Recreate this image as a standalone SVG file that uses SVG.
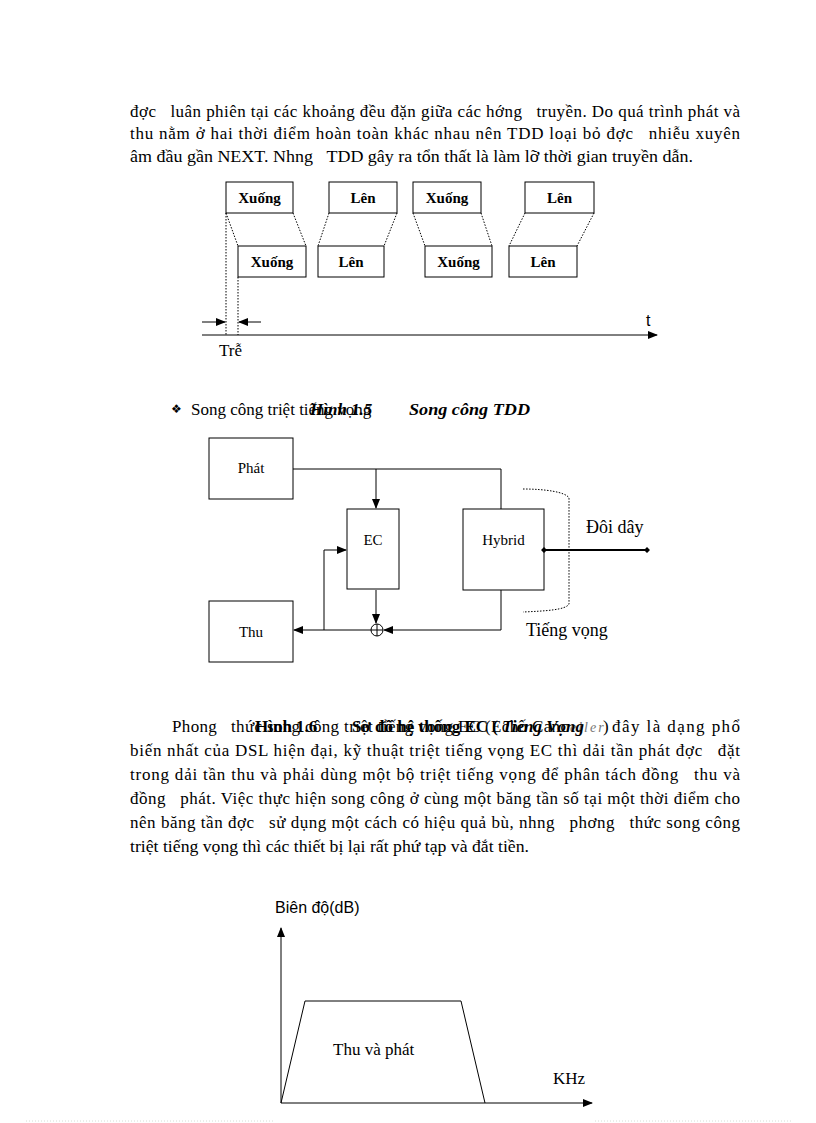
<svg xmlns="http://www.w3.org/2000/svg" width="816" height="1123" viewBox="0 0 816 1123">
<defs>
<marker id="ah" markerWidth="10" markerHeight="8" refX="9" refY="4" orient="auto" markerUnits="userSpaceOnUse"><path d="M0,0 L10,4 L0,8 Z" fill="#000"/></marker>
<style>
.body{font-family:"Liberation Serif","Times New Roman",serif;font-size:17px;fill:#000}
.cap{font-family:"Liberation Serif","Times New Roman",serif;font-size:17px;font-weight:bold;font-style:italic;fill:#000}
.capb{font-family:"Liberation Serif","Times New Roman",serif;font-size:17px;font-weight:bold;fill:#000}
.tb{font-family:"Liberation Serif","Times New Roman",serif;font-size:15px;font-weight:bold;fill:#000;text-anchor:middle}
.bl{font-family:"Liberation Serif","Times New Roman",serif;font-size:15px;fill:#000;text-anchor:middle}
.lbl{font-family:"Liberation Serif","Times New Roman",serif;font-size:18px;fill:#000}
.sans{font-family:"Liberation Sans",Arial,sans-serif;font-size:16px;fill:#000}
.box{fill:#fff;stroke:#000;stroke-width:1}
.ln{fill:none;stroke:#000;stroke-width:1}
.dot{fill:none;stroke:#000;stroke-width:1;stroke-dasharray:1.5 1.5}
.faint{fill:none;stroke:#d6ddd6;stroke-width:1;stroke-dasharray:1 2}
</style>
</defs>
<rect width="816" height="1123" fill="#fff"/>

<!-- Paragraph 1 -->
<g id="para1">
<text class="body" x="130" y="117" textLength="610" lengthAdjust="spacing">đợc &#160;&#160;luân phiên tại các khoảng đều đặn giữa các hớng &#160;&#160;truyền. Do quá trình phát và</text>
<text class="body" x="130" y="139" textLength="610" lengthAdjust="spacing">thu nằm ở hai thời điểm hoàn toàn khác nhau nên TDD loại bỏ đợc &#160;&#160;nhiễu xuyên</text>
<text class="body" x="130" y="162" textLength="563" lengthAdjust="spacingAndGlyphs">âm đầu gần NEXT. Nhng &#160;&#160;TDD gây ra tổn thất là làm lỡ thời gian truyền dẫn.</text>
</g>

<!-- Timing diagram -->
<g id="tdd">
<g id="t-top-xuong"><rect class="box" x="226" y="182" width="67" height="31"/><text class="tb" x="259.5" y="203">Xuống</text></g>
<g id="t-top-len"><rect class="box" x="329" y="182" width="68" height="31"/><text class="tb" x="363" y="203">Lên</text></g>
<g id="t-top-xuong2"><rect class="box" x="413" y="182" width="68" height="31"/><text class="tb" x="447" y="203">Xuống</text></g>
<g id="t-top-len2"><rect class="box" x="525" y="182" width="69" height="31"/><text class="tb" x="559.5" y="203">Lên</text></g>
<g id="t-bot-xuong"><rect class="box" x="238" y="246" width="68" height="31"/><text class="tb" x="272" y="267">Xuống</text></g>
<g id="t-bot-len"><rect class="box" x="318" y="246" width="66" height="31"/><text class="tb" x="351" y="267">Lên</text></g>
<g id="t-bot-xuong2"><rect class="box" x="425" y="246" width="67" height="31"/><text class="tb" x="458.5" y="267">Xuống</text></g>
<g id="t-bot-len2"><rect class="box" x="509" y="246" width="68" height="31"/><text class="tb" x="543" y="267">Lên</text></g>
<g id="t-connectors">
<path class="dot" d="M226,213 L238,246 M293,213 L306,246 M329,213 L318,246 M397,213 L384,246 M413,213 L425,246 M481,213 L492,246 M525,213 L509,246 M594,213 L577,246"/>
<path class="dot" d="M226,213 L226,335 M238,277 L238,335"/>
<path class="ln" d="M202,335 L657,335" marker-end="url(#ah)"/>
<path class="ln" d="M202,322 L225,322" marker-end="url(#ah)"/>
<path class="ln" d="M261,322 L239,322" marker-end="url(#ah)"/>
</g>
<text class="sans" x="646" y="326" font-size="17">t</text>
<text class="body" x="219" y="356">Trễ</text>
</g>

<!-- Caption 1.5 overlapping heading -->
<g id="heading">
<text x="171" y="413" font-family="DejaVu Sans,sans-serif" font-size="12" fill="#000">❖</text>
<text class="body" x="191" y="415" font-size="16">Song công triệt tiếng vọng</text>
<text class="cap" x="310" y="415">Hình 1.5</text>
<text class="cap" x="409" y="415" textLength="121" lengthAdjust="spacingAndGlyphs">Song công TDD</text>
</g>

<!-- Block diagram -->
<g id="ec-diagram">
<g id="n-phat"><rect class="box" x="209" y="438" width="84" height="61"/><text class="bl" x="251" y="473">Phát</text></g>
<g id="n-ec"><rect class="box" x="347" y="509" width="52" height="80"/><text class="bl" x="373" y="545">EC</text></g>
<g id="n-hybrid"><rect class="box" x="463" y="509" width="81" height="81"/><text class="bl" x="503.5" y="545">Hybrid</text></g>
<g id="n-thu"><rect class="box" x="209" y="601" width="84" height="61"/><text class="bl" x="251" y="637">Thu</text></g>
<g id="n-sum"><circle cx="377" cy="630" r="6" fill="#fff" stroke="#000"/><path class="ln" d="M371,630 L383,630 M377,624 L377,636"/></g>
<g id="ec-connectors">
<path class="ln" d="M293,469 L501,469 L501,509"/>
<path class="ln" d="M376,469 L376,508" marker-end="url(#ah)"/>
<path class="ln" d="M376,590 L376,623" marker-end="url(#ah)"/>
<path class="ln" d="M501,590 L501,630 L384,630" marker-end="url(#ah)"/>
<path class="ln" d="M371,630 L294,630" marker-end="url(#ah)"/>
<path class="ln" d="M324,630 L324,550 L346,550" marker-end="url(#ah)"/>
<path d="M544,550 L647,550" stroke="#000" stroke-width="2"/>
<path d="M544,547 L547,550 L544,553 L541,550 Z M647,547 L650,550 L647,553 L644,550 Z" fill="#000"/>
<path class="dot" d="M523,489 C545,489 566,492 569,498 L569,604 C566,610 545,611 523,612"/>
</g>
<text class="lbl" x="586" y="533">Đôi dây</text>
<text class="lbl" x="526" y="636">Tiếng vọng</text>
</g>

<!-- Paragraph 2 with overlapping caption 1.6 -->
<g id="para2">
<text class="body" x="172" y="732" textLength="396" lengthAdjust="spacing">Phong &#160;&#160;thức song công triệt tiếng vọng EC (Echo Canc</text>
<text x="570" y="732" font-family="Liberation Serif,serif" font-size="14" font-style="italic" fill="#777" letter-spacing="2">eller</text>
<text class="body" x="603" y="732">)</text>
<text class="body" x="612" y="732" textLength="128" lengthAdjust="spacing">đây là dạng phổ</text>
<text class="capb" x="255" y="732">Hình 1.6</text>
<text class="capb" x="352" y="732">Sơ đồ hệ thống EC (</text>
<text class="cap" x="502" y="732">Tiếng Vọng</text>
<text class="body" x="130" y="756" textLength="610" lengthAdjust="spacing">biến nhất của DSL hiện đại, kỹ thuật triệt tiếng vọng EC thì dải tần phát đợc &#160;&#160;đặt</text>
<text class="body" x="130" y="780" textLength="610" lengthAdjust="spacing">trong dải tần thu và phải dùng một bộ triệt tiếng vọng để phân tách đồng &#160;&#160;thu và</text>
<text class="body" x="130" y="804" textLength="610" lengthAdjust="spacing">đồng &#160;&#160;phát. Việc thực hiện song công ở cùng một băng tần số tại một thời điểm cho</text>
<text class="body" x="130" y="828" textLength="610" lengthAdjust="spacing">nên băng tần đợc &#160;&#160;sử dụng một cách có hiệu quả bù, nhng &#160;&#160;phơng &#160;&#160;thức song công</text>
<text class="body" x="130" y="852" textLength="399" lengthAdjust="spacingAndGlyphs">triệt tiếng vọng thì các thiết bị lại rất phứ tạp và đắt tiền.</text>
</g>

<!-- Spectrum chart -->
<g id="chart">
<path class="ln" d="M281,1103 L281,928" marker-end="url(#ah)"/>
<path class="ln" d="M281,1103 L592,1103" marker-end="url(#ah)"/>
<path class="ln" d="M281,1103 L305,1001 L461,1001 L485,1103"/>
<text class="sans" x="275" y="913">Biên độ(dB)</text>
<text class="body" x="333" y="1055">Thu và phát</text>
<text class="body" x="553" y="1084">KHz</text>
</g>

<path class="faint" d="M26,1121 L274,1121 M595,1121 L792,1121"/>
</svg>
